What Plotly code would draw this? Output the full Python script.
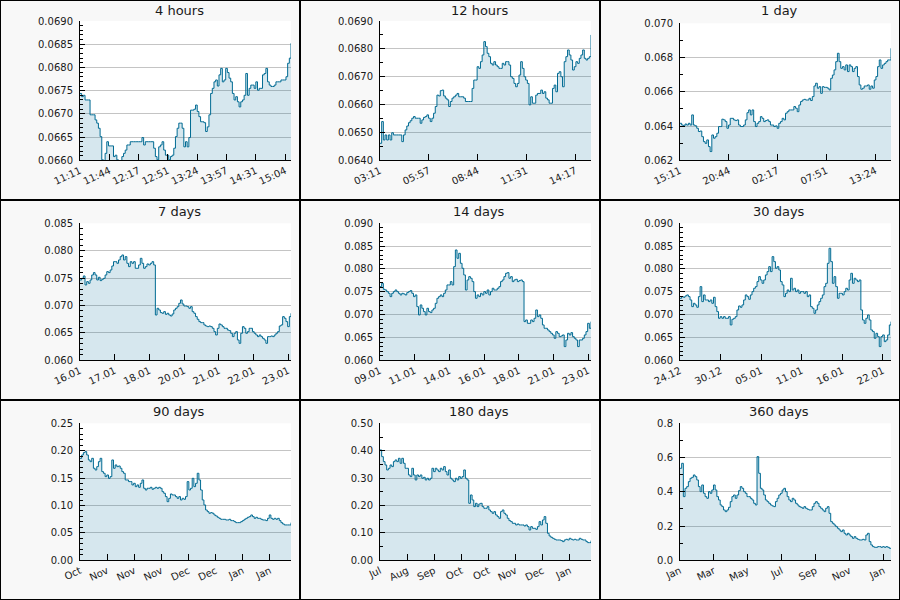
import numpy as np
import plotly.graph_objects as go

# ---------------- data ----------------
titles = ["4 hours", "12 hours", "1 day", "7 days", "14 days", "30 days",
          "90 days", "180 days", "360 days"]

# time span of each panel (minutes for the first three, days for the rest)
spans = [240, 720, 1440, 7, 14, 30, 90, 180, 360]
tick_steps = [240 / 7.2, 720 / 4.32, 1440 / 4.32, 7 / 6.08, 14 / 6.08,
              30 / 5.2, 90 / 7.78, 180 / 7.78, 360 / 6.22]

ticks_4h = ["11:11", "11:44", "12:17", "12:51", "13:24", "13:57", "14:31", "15:04"]
ticks_12h = ["03:11", "05:57", "08:44", "11:31", "14:17"]
ticks_1d = ["15:11", "20:44", "02:17", "07:51", "13:24"]
ticks_7d = ["16.01", "17.01", "18.01", "20.01", "21.01", "22.01", "23.01"]
ticks_14d = ["09.01", "11.01", "14.01", "16.01", "18.01", "21.01", "23.01"]
ticks_30d = ["24.12", "30.12", "05.01", "11.01", "16.01", "22.01"]
ticks_90d = ["Oct", "Nov", "Nov", "Nov", "Dec", "Dec", "Jan", "Jan"]
ticks_180d = ["Jul", "Aug", "Sep", "Oct", "Oct", "Nov", "Dec", "Jan"]
ticks_360d = ["Jan", "Mar", "May", "Jul", "Sep", "Nov", "Jan"]

y_ranges = [(0.0660, 0.0690), (0.0640, 0.0690), (0.062, 0.070),
            (0.060, 0.085), (0.060, 0.090), (0.060, 0.090),
            (0.0, 0.25), (0.0, 0.50), (0.0, 0.8)]
y_dticks = [0.0005, 0.0010, 0.002, 0.005, 0.005, 0.005, 0.05, 0.10, 0.2]
y_minor = [0.0001, 0.0005, 0.001, 0.001, 0.001, 0.001, 0.01, 0.05, 0.1]
y_formats = [".4f", ".4f", ".3f", ".3f", ".3f", ".3f", ".2f", ".2f", ".1f"]

vals_4h = [
    0.06744, 0.06737, 0.06740, 0.06730, 0.06730, 0.06730, 0.06698, 0.06698, 0.06698, 0.06687,
    0.06680, 0.06669, 0.06651, 0.06601, 0.06590, 0.06615, 0.06640, 0.06631, 0.06631, 0.06631,
    0.06608, 0.06611, 0.06601, 0.06590, 0.06590, 0.06608, 0.06615, 0.06622, 0.06633, 0.06633,
    0.06640, 0.06640, 0.06640, 0.06640, 0.06640, 0.06640, 0.06640, 0.06649, 0.06633, 0.06640,
    0.06640, 0.06640, 0.06640, 0.06640, 0.06626, 0.06608, 0.06601, 0.06629, 0.06633, 0.06640,
    0.06622, 0.06611, 0.06611, 0.06601, 0.06608, 0.06611, 0.06626, 0.06651, 0.06669, 0.06680,
    0.06680, 0.06669, 0.06629, 0.06640, 0.06629, 0.06649, 0.06708, 0.06708, 0.06710, 0.06719,
    0.06705, 0.06694, 0.06683, 0.06683, 0.06681, 0.06662, 0.06672, 0.06698, 0.06744, 0.06755,
    0.06769, 0.06773, 0.06760, 0.06784, 0.06798, 0.06769, 0.06773, 0.06798, 0.06789, 0.06777,
    0.06769, 0.06744, 0.06730, 0.06737, 0.06726, 0.06715, 0.06726, 0.06730, 0.06740, 0.06787,
    0.06740, 0.06755, 0.06762, 0.06762, 0.06755, 0.06769, 0.06751, 0.06755, 0.06755, 0.06784,
    0.06787, 0.06798, 0.06769, 0.06762, 0.06759, 0.06759, 0.06762, 0.06769, 0.06769, 0.06769,
    0.06773, 0.06773, 0.06773, 0.06780, 0.06809, 0.06820, 0.06852]

vals_12h = [
    0.06461, 0.06539, 0.06473, 0.06491, 0.06473, 0.06491, 0.06473, 0.06499, 0.06491, 0.06491,
    0.06491, 0.06491, 0.06491, 0.06467, 0.06491, 0.06509, 0.06523, 0.06535, 0.06542, 0.06551,
    0.06557, 0.06551, 0.06551, 0.06551, 0.06533, 0.06545, 0.06554, 0.06557, 0.06563, 0.06551,
    0.06539, 0.06551, 0.06569, 0.06593, 0.06634, 0.06631, 0.06650, 0.06652, 0.06631, 0.06623,
    0.06617, 0.06593, 0.06611, 0.06623, 0.06628, 0.06634, 0.06640, 0.06628, 0.06628, 0.06628,
    0.06623, 0.06611, 0.06611, 0.06611, 0.06611, 0.06658, 0.06688, 0.06688, 0.06736, 0.06730,
    0.06754, 0.06778, 0.06826, 0.06808, 0.06784, 0.06772, 0.06748, 0.06742, 0.06754, 0.06742,
    0.06736, 0.06730, 0.06730, 0.06748, 0.06742, 0.06754, 0.06754, 0.06742, 0.06700, 0.06694,
    0.06676, 0.06664, 0.06676, 0.06706, 0.06754, 0.06730, 0.06700, 0.06688, 0.06676, 0.06599,
    0.06628, 0.06605, 0.06605, 0.06634, 0.06640, 0.06640, 0.06652, 0.06640, 0.06646, 0.06623,
    0.06617, 0.06605, 0.06605, 0.06658, 0.06670, 0.06646, 0.06712, 0.06718, 0.06700, 0.06664,
    0.06754, 0.06772, 0.06796, 0.06778, 0.06760, 0.06724, 0.06736, 0.06754, 0.06748, 0.06766,
    0.06778, 0.06796, 0.06766, 0.06760, 0.06766, 0.06772, 0.06850]

vals_1d = [
    0.06416, 0.06406, 0.06401, 0.06412, 0.06406, 0.06416, 0.06406, 0.06465, 0.06406, 0.06401,
    0.06387, 0.06368, 0.06371, 0.06338, 0.06309, 0.06299, 0.06319, 0.06280, 0.06251, 0.06348,
    0.06329, 0.06338, 0.06358, 0.06397, 0.06397, 0.06440, 0.06436, 0.06426, 0.06387, 0.06406,
    0.06445, 0.06445, 0.06436, 0.06432, 0.06436, 0.06406, 0.06397, 0.06397, 0.06406, 0.06436,
    0.06478, 0.06494, 0.06465, 0.06494, 0.06426, 0.06397, 0.06416, 0.06426, 0.06455, 0.06445,
    0.06426, 0.06432, 0.06436, 0.06426, 0.06406, 0.06406, 0.06397, 0.06401, 0.06387, 0.06416,
    0.06426, 0.06445, 0.06436, 0.06475, 0.06484, 0.06494, 0.06494, 0.06494, 0.06514, 0.06504,
    0.06484, 0.06523, 0.06543, 0.06552, 0.06556, 0.06552, 0.06552, 0.06562, 0.06549, 0.06572,
    0.06634, 0.06650, 0.06621, 0.06630, 0.06591, 0.06630, 0.06626, 0.06626, 0.06621, 0.06611,
    0.06679, 0.06698, 0.06728, 0.06776, 0.06825, 0.06776, 0.06737, 0.06747, 0.06728, 0.06757,
    0.06718, 0.06757, 0.06747, 0.06718, 0.06737, 0.06747, 0.06689, 0.06640, 0.06615, 0.06621,
    0.06634, 0.06634, 0.06640, 0.06615, 0.06634, 0.06621, 0.06669, 0.06689, 0.06747, 0.06786,
    0.06737, 0.06757, 0.06766, 0.06776, 0.06786, 0.06786, 0.06854]

vals_7d = [
    0.07466, 0.07496, 0.07539, 0.07375, 0.07436, 0.07405, 0.07466, 0.07557, 0.07600, 0.07557,
    0.07466, 0.07515, 0.07454, 0.07478, 0.07496, 0.07557, 0.07618, 0.07600, 0.07648, 0.07721,
    0.07800, 0.07800, 0.07770, 0.07831, 0.07892, 0.07922, 0.07831, 0.07892, 0.07770, 0.07709,
    0.07800, 0.07770, 0.07800, 0.07679, 0.07679, 0.07740, 0.07861, 0.07770, 0.07679, 0.07709,
    0.07758, 0.07740, 0.07770, 0.07800, 0.07740, 0.06827, 0.06949, 0.06918, 0.06870, 0.06858,
    0.06888, 0.06839, 0.06858, 0.06827, 0.06809, 0.06845, 0.06918, 0.06949, 0.06979, 0.07040,
    0.07101, 0.07028, 0.06991, 0.06991, 0.06979, 0.06949, 0.06979, 0.06888, 0.06858, 0.06797,
    0.06748, 0.06706, 0.06687, 0.06687, 0.06645, 0.06626, 0.06614, 0.06626, 0.06614, 0.06584,
    0.06523, 0.06462, 0.06584, 0.06663, 0.06645, 0.06614, 0.06584, 0.06584, 0.06553, 0.06541,
    0.06493, 0.06432, 0.06493, 0.06523, 0.06371, 0.06310, 0.06493, 0.06614, 0.06584, 0.06493,
    0.06523, 0.06584, 0.06584, 0.06523, 0.06493, 0.06462, 0.06432, 0.06462, 0.06432, 0.06401,
    0.06371, 0.06310, 0.06432, 0.06432, 0.06444, 0.06432, 0.06462, 0.06493, 0.06523, 0.06626,
    0.06645, 0.06797, 0.06767, 0.06706, 0.06614, 0.06797, 0.06858]

vals_14d = [
    0.07613, 0.07686, 0.07555, 0.07540, 0.07504, 0.07467, 0.07394, 0.07467, 0.07504, 0.07540,
    0.07504, 0.07467, 0.07431, 0.07467, 0.07453, 0.07431, 0.07482, 0.07504, 0.07526, 0.07467,
    0.07394, 0.07431, 0.07175, 0.06993, 0.07212, 0.07139, 0.07066, 0.06993, 0.07139, 0.07066,
    0.07044, 0.07102, 0.07139, 0.07248, 0.07358, 0.07394, 0.07431, 0.07394, 0.07467, 0.07540,
    0.07650, 0.07650, 0.07723, 0.07650, 0.08051, 0.08416, 0.08234, 0.08343, 0.08124, 0.08015,
    0.07869, 0.07540, 0.07759, 0.07832, 0.07796, 0.07723, 0.07504, 0.07358, 0.07431, 0.07394,
    0.07467, 0.07431, 0.07504, 0.07467, 0.07540, 0.07431, 0.07504, 0.07577, 0.07540, 0.07540,
    0.07577, 0.07613, 0.07723, 0.07759, 0.07832, 0.07905, 0.07920, 0.07796, 0.07832, 0.07723,
    0.07759, 0.07774, 0.07723, 0.07745, 0.07759, 0.07723, 0.06847, 0.06883, 0.06810, 0.06810,
    0.06883, 0.06847, 0.06920, 0.07102, 0.06956, 0.06993, 0.06920, 0.06774, 0.06701, 0.06701,
    0.06664, 0.06628, 0.06591, 0.06555, 0.06482, 0.06628, 0.06591, 0.06518, 0.06533, 0.06555,
    0.06300, 0.06445, 0.06591, 0.06555, 0.06606, 0.06518, 0.06482, 0.06445, 0.06300, 0.06445,
    0.06445, 0.06482, 0.06555, 0.06628, 0.06810, 0.06701, 0.06847]

vals_30d = [
    0.07358, 0.07394, 0.07380, 0.07409, 0.07431, 0.07394, 0.07321, 0.07175, 0.07248, 0.07212,
    0.07161, 0.07394, 0.07613, 0.07285, 0.07431, 0.07321, 0.07321, 0.07285, 0.07321, 0.07248,
    0.07380, 0.07175, 0.07066, 0.06920, 0.06956, 0.06920, 0.06956, 0.06920, 0.06920, 0.06956,
    0.06774, 0.06898, 0.06920, 0.06956, 0.07102, 0.07190, 0.07161, 0.07212, 0.07321, 0.07431,
    0.07394, 0.07336, 0.07431, 0.07504, 0.07577, 0.07613, 0.07723, 0.07832, 0.07759, 0.07686,
    0.07759, 0.07869, 0.07942, 0.08051, 0.07942, 0.08270, 0.08161, 0.08015, 0.08051, 0.07978,
    0.07723, 0.07650, 0.07394, 0.07467, 0.07540, 0.07504, 0.07796, 0.07540, 0.07577, 0.07504,
    0.07540, 0.07467, 0.07504, 0.07504, 0.07467, 0.07504, 0.07394, 0.07431, 0.07175, 0.07139,
    0.07029, 0.07102, 0.07212, 0.07285, 0.07358, 0.07431, 0.07613, 0.07686, 0.08124, 0.08453,
    0.08161, 0.07686, 0.07832, 0.07613, 0.07358, 0.07467, 0.07467, 0.07431, 0.07504, 0.07577,
    0.07540, 0.07759, 0.07905, 0.07686, 0.07796, 0.07759, 0.07723, 0.07759, 0.07102, 0.06883,
    0.06810, 0.06920, 0.06993, 0.06883, 0.06664, 0.06628, 0.06482, 0.06591, 0.06518, 0.06300,
    0.06518, 0.06555, 0.06409, 0.06445, 0.06555, 0.06774, 0.06847]

vals_90d = [
    0.1861, 0.1922, 0.1965, 0.1983, 0.1922, 0.1831, 0.1800, 0.1861, 0.1679, 0.1648,
    0.1709, 0.1800, 0.1861, 0.1618, 0.1588, 0.1527, 0.1557, 0.1496, 0.1527, 0.1831,
    0.1679, 0.1740, 0.1709, 0.1721, 0.1679, 0.1618, 0.1588, 0.1466, 0.1466, 0.1436,
    0.1436, 0.1375, 0.1405, 0.1344, 0.1375, 0.1332, 0.1405, 0.1466, 0.1314, 0.1283,
    0.1314, 0.1314, 0.1332, 0.1296, 0.1314, 0.1332, 0.1314, 0.1332, 0.1314, 0.1253,
    0.1223, 0.1162, 0.1070, 0.1131, 0.1210, 0.1192, 0.1192, 0.1162, 0.1131, 0.1162,
    0.1101, 0.1131, 0.1113, 0.1162, 0.1436, 0.1283, 0.1314, 0.1496, 0.1344, 0.1405,
    0.1588, 0.1466, 0.1283, 0.1101, 0.1010, 0.0918, 0.0888, 0.0858, 0.0870, 0.0858,
    0.0827, 0.0809, 0.0785, 0.0766, 0.0748, 0.0748, 0.0748, 0.0736, 0.0736, 0.0748,
    0.0724, 0.0724, 0.0706, 0.0687, 0.0687, 0.0687, 0.0706, 0.0724, 0.0748, 0.0766,
    0.0785, 0.0797, 0.0827, 0.0797, 0.0766, 0.0785, 0.0766, 0.0766, 0.0748, 0.0736,
    0.0736, 0.0724, 0.0766, 0.0827, 0.0766, 0.0748, 0.0766, 0.0748, 0.0766, 0.0724,
    0.0687, 0.0663, 0.0645, 0.0645, 0.0645, 0.0645, 0.0687]

vals_180d = [
    0.4027, 0.3783, 0.3601, 0.3479, 0.3297, 0.3358, 0.3479, 0.3419, 0.3601, 0.3662,
    0.3601, 0.3723, 0.3540, 0.3723, 0.3540, 0.3358, 0.3358, 0.3114, 0.3054, 0.3358,
    0.3114, 0.2932, 0.3114, 0.3054, 0.3114, 0.2993, 0.3029, 0.2932, 0.2993, 0.2932,
    0.2993, 0.3358, 0.3236, 0.3358, 0.3297, 0.3236, 0.3358, 0.3297, 0.3419, 0.3236,
    0.3114, 0.3297, 0.2993, 0.2932, 0.2871, 0.2993, 0.2932, 0.3054, 0.2993, 0.3054,
    0.3297, 0.2993, 0.2932, 0.2080, 0.2384, 0.2202, 0.1959, 0.2080, 0.1959, 0.2056,
    0.2080, 0.1959, 0.1898, 0.1898, 0.1959, 0.1837, 0.1776, 0.1715, 0.1776, 0.1655,
    0.1594, 0.1533, 0.1776, 0.1837, 0.1715, 0.1655, 0.1533, 0.1448, 0.1411, 0.1350,
    0.1350, 0.1290, 0.1326, 0.1290, 0.1290, 0.1290, 0.1253, 0.1290, 0.1229, 0.1107,
    0.1229, 0.1168, 0.1168, 0.1131, 0.1229, 0.1411, 0.1290, 0.1472, 0.1594, 0.1350,
    0.0985, 0.0888, 0.0839, 0.0803, 0.0767, 0.0742, 0.0742, 0.0742, 0.0718, 0.0681,
    0.0742, 0.0767, 0.0742, 0.0803, 0.0767, 0.0742, 0.0767, 0.0742, 0.0742, 0.0803,
    0.0767, 0.0742, 0.0742, 0.0681, 0.0645, 0.0645, 0.0718]

vals_360d = [
    0.5372, 0.5664, 0.3718, 0.4204, 0.4302, 0.4594, 0.4788, 0.4847, 0.4983, 0.4886,
    0.4691, 0.4302, 0.4010, 0.4399, 0.3912, 0.3718, 0.3620, 0.4010, 0.3912, 0.4107,
    0.4399, 0.4107, 0.3718, 0.3523, 0.3231, 0.3134, 0.2939, 0.2842, 0.2939, 0.3095,
    0.3426, 0.3718, 0.3815, 0.3620, 0.3815, 0.4068, 0.4302, 0.4204, 0.4010, 0.3912,
    0.3718, 0.3718, 0.3620, 0.3523, 0.3328, 0.3231, 0.6054, 0.5080, 0.4204, 0.4107,
    0.3815, 0.3523, 0.3426, 0.3328, 0.3231, 0.3173, 0.3134, 0.3426, 0.3620, 0.3815,
    0.3912, 0.4107, 0.4204, 0.4010, 0.3718, 0.3523, 0.3426, 0.3620, 0.3523, 0.3328,
    0.3231, 0.3134, 0.3095, 0.3037, 0.3134, 0.3037, 0.2978, 0.2939, 0.2939, 0.3134,
    0.3328, 0.3426, 0.3328, 0.3134, 0.3037, 0.2939, 0.2842, 0.3037, 0.3134, 0.2744,
    0.2258, 0.2161, 0.2063, 0.1966, 0.1869, 0.1771, 0.1674, 0.1771, 0.1576, 0.1479,
    0.1576, 0.1479, 0.1382, 0.1284, 0.1382, 0.1284, 0.1226, 0.1187, 0.1187, 0.1226,
    0.1187, 0.1479, 0.1576, 0.1090, 0.0895, 0.0798, 0.0759, 0.0759, 0.0798, 0.0798,
    0.0759, 0.0798, 0.0759, 0.0798, 0.0759, 0.0701, 0.0701]

series = [vals_4h, vals_12h, vals_1d, vals_7d, vals_14d, vals_30d,
          vals_90d, vals_180d, vals_360d]
tick_label_sets = [ticks_4h, ticks_12h, ticks_1d, ticks_7d, ticks_14d, ticks_30d,
                   ticks_90d, ticks_180d, ticks_360d]

# ---------------- style ----------------
W, H = 900, 600
LINE = "#006b93"
FILL = "rgba(0,107,147,0.16)"
FONT = "DejaVu Sans"
TXT = "#1a1a1a"

fig = go.Figure()
layout = dict(
    width=W, height=H, autosize=False, margin=dict(l=0, r=0, t=0, b=0, pad=0),
    paper_bgcolor="#f8f8f8", plot_bgcolor="white", showlegend=False,
    font=dict(family=FONT, size=10, color=TXT),
)

annotations = []
shapes = []
for i in range(9):
    row, col = divmod(i, 3)
    k = "" if i == 0 else str(i + 1)
    x0 = col * 300 + 80
    x1 = col * 300 + 291
    top = row * 200 + (21 if i < 2 else 23.3)
    bot = row * 200 + 160.3
    vals = series[i]
    xs = np.linspace(0, spans[i], len(vals))
    fig.add_trace(go.Scatter(
        x=xs, y=vals, mode="lines", xaxis="x" + k, yaxis="y" + k,
        line=dict(color=LINE, width=1, shape="hv"),
        fill="tozeroy", fillcolor=FILL, hoverinfo="skip"))
    labels = tick_label_sets[i]
    tvals = [j * tick_steps[i] for j in range(len(labels))]
    layout["xaxis" + k] = dict(
        domain=[x0 / W, x1 / W], anchor="y" + k, range=[0, spans[i]], automargin=False,
        showgrid=False, zeroline=False, showline=True, linecolor="black", linewidth=1,
        ticks="inside", ticklen=6, tickcolor="black", tickwidth=1,
        tickmode="array", tickvals=tvals, ticktext=labels, tickangle=-25,
        tickfont=dict(family=FONT, size=10, color=TXT), fixedrange=True)
    lo, hi = y_ranges[i]
    layout["yaxis" + k] = dict(
        domain=[1 - bot / H, 1 - top / H], anchor="x" + k, range=[lo, hi], automargin=False,
        showgrid=True, gridcolor="#c4c4c4", gridwidth=1, zeroline=False,
        showline=True, linecolor="black", linewidth=1,
        ticks="inside", ticklen=5, tickcolor="black", tickwidth=1,
        tick0=lo, dtick=y_dticks[i], tickformat=y_formats[i],
        minor=dict(ticks="inside", ticklen=3, tickcolor="black", dtick=y_minor[i],
                   tick0=lo, showgrid=False),
        ticklabelstandoff=4,
        tickfont=dict(family=FONT, size=10, color=TXT), fixedrange=True)
    annotations.append(dict(
        text=titles[i], x=(col * 300 + 179) / W, y=1 - (row * 200 + 11) / H,
        xref="paper", yref="paper", xanchor="center", yanchor="middle",
        showarrow=False, font=dict(family=FONT, size=13, color=TXT)))

# panel borders
for c in (300, 600):
    shapes.append(dict(type="line", xref="paper", yref="paper",
                       x0=c / W, x1=c / W, y0=0, y1=1, line=dict(color="black", width=2)))
for r in (200, 400):
    shapes.append(dict(type="line", xref="paper", yref="paper",
                       x0=0, x1=1, y0=1 - r / H, y1=1 - r / H, line=dict(color="black", width=2)))
shapes.append(dict(type="rect", xref="paper", yref="paper", x0=0, x1=1, y0=0, y1=1,
                   line=dict(color="black", width=2)))

layout["annotations"] = annotations
layout["shapes"] = shapes
fig.update_layout(**layout)
fig.write_html("out.html")
